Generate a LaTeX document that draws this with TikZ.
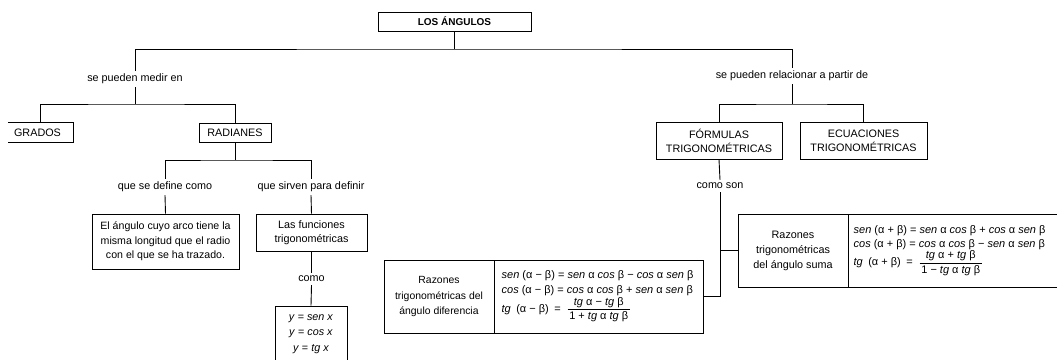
\documentclass[tikz,border=0pt]{standalone}
\usepackage{fontspec}
\setmainfont{Liberation Sans}
\usepackage{amsmath}
\newcommand{\fr}[2]{$\displaystyle\frac{\hbox{\,#1\,}}{\hbox{\,#2\,}}$}
\begin{document}
\begin{tikzpicture}[x=1pt,y=-1pt,
  every node/.style={font=\fontsize{10.8}{15}\selectfont},
  box/.style={draw, line width=0.9pt, align=center, inner sep=2pt},
  lbl/.style={inner sep=3pt},
  conn/.style={line width=0.9pt}]
\path[use as bounding box, clip] (0,0) rectangle (1057,359);
\fill[white] (0,0) rectangle (1057,359);

% top
\node[box, minimum width=153, minimum height=19, font=\fontsize{10}{12}\selectfont\bfseries] (t) at (454.5,21.5) {LOS ÁNGULOS};
\node[lbl] (m) at (135,79) {se pueden medir en};
\node[lbl] (r) at (792,76) {se pueden relacionar a partir de};
\coordinate (j1) at (454.5,49);
\draw[conn] (t.south) -- (j1);
\draw[conn] (m.north) |- (j1) -| (r.north);

% left branch
\node[minimum width=65, minimum height=19, inner sep=0] (g) at (40.5,132.5) {\hspace*{-6pt}GRADOS};
\draw[conn] (g.north west) -- (g.north east) -- (g.south east) -- (g.south west);
\node[box, minimum width=72, minimum height=19] (rad) at (235,132.5) {RADIANES};
\coordinate (j2) at (135,104);
\draw[conn] (m.south) -- (j2);
\draw[conn] (g.north) |- (j2) -| (rad.north);

\node[lbl] (l2) at (165,187) {que se define como};
\node[lbl] (l3) at (311,187) {que sirven para definir};
\coordinate (j3) at (235,160);
\draw[conn] (rad.south) -- (j3);
\draw[conn] (l2.north) |- (j3) -| (l3.north);

\node[box, minimum width=147, minimum height=55, font=\fontsize{10.6}{14.5}\selectfont] (def) at (165.5,241.5) {El ángulo cuyo arco tiene la\\misma longitud que el radio\\con el que se ha trazado.};
\node[box, minimum width=111, minimum height=37, font=\fontsize{10.8}{14}\selectfont] (fun) at (311.5,232.5) {Las funciones\\trigonométricas};
\draw[conn] (l2.south) -- (def.north);
\draw[conn] (l3.south) -- (fun.north);
\node[lbl] (como) at (311.5,279) {como};
\draw[conn] (fun.south) -- (como.north);
\node[box, minimum width=72, minimum height=56, font=\fontsize{10.8}{15.5}\selectfont] (yb) at (311,334) {\textit{y} = \textit{sen x}\\\textit{y} = \textit{cos x}\\\textit{y} = \textit{tg x}};
\draw[conn] (como.south) -- (yb.north);

% right branch
\node[box, minimum width=126, minimum height=37, font=\fontsize{10.8}{14}\selectfont] (form) at (719,140.5) {FÓRMULAS\\TRIGONOMÉTRICAS};
\node[box, minimum width=127, minimum height=37, font=\fontsize{10.8}{14}\selectfont] (ecu) at (863.5,140.5) {ECUACIONES\\TRIGONOMÉTRICAS};
\coordinate (j4) at (792,104);
\draw[conn] (r.south) -- (j4);
\draw[conn] (form.north) |- (j4) -| (ecu.north);
\node[lbl] (cs) at (720,186) {como son};
\draw[conn] (form.south) -- (cs.north);

% difference box
\node[box, minimum width=110, minimum height=73, font=\fontsize{10.4}{15.5}\selectfont] (dl) at (439,296.5) {Razones\\trigonométricas del\\ángulo diferencia};
\node[draw, line width=0.9pt, minimum width=209, minimum height=73, anchor=west, inner sep=0] (dr) at (dl.east) {};
\node[align=left, anchor=west, inner sep=0, font=\fontsize{11}{16}\selectfont] (df) at ([xshift=7]dr.west) {\textit{sen} (α − β) = \textit{sen} α \textit{cos} β − \textit{cos} α \textit{sen} β\\[-1pt]\textit{cos} (α − β) = \textit{cos} α \textit{cos} β + \textit{sen} α \textit{sen} β\\\textit{tg}\enspace(α − β)\enspace=\enspace\fr{\textit{tg} α − \textit{tg} β}{1 + \textit{tg} α \textit{tg} β}};

% sum box
\node[box, minimum width=110, minimum height=73, font=\fontsize{10.8}{15}\selectfont] (sl) at (793,250.5) {Razones\\trigonométricas\\del ángulo suma};
\node[draw, line width=0.9pt, minimum width=230, minimum height=73, anchor=west, inner sep=0] (sr) at (sl.east) {};
\node[align=left, anchor=west, inner sep=0, font=\fontsize{11}{15}\selectfont] (sf) at ([xshift=5]sr.west) {\textit{sen} (α + β) = \textit{sen} α \textit{cos} β + \textit{cos} α \textit{sen} β\\[-1pt]\textit{cos} (α + β) = \textit{cos} α \textit{cos} β − \textit{sen} α \textit{sen} β\\\textit{tg}\enspace(α + β)\enspace=\enspace\fr{\textit{tg} α + \textit{tg} β}{1 − \textit{tg} α \textit{tg} β}};

\coordinate (j5) at (720,296.5);
\draw[conn] (cs.south) -- (j5);
\draw[conn] (j5) -- (dr.east);
\draw[conn] (sl.west) -- (sl.west -| j5);
\end{tikzpicture}
\end{document}
